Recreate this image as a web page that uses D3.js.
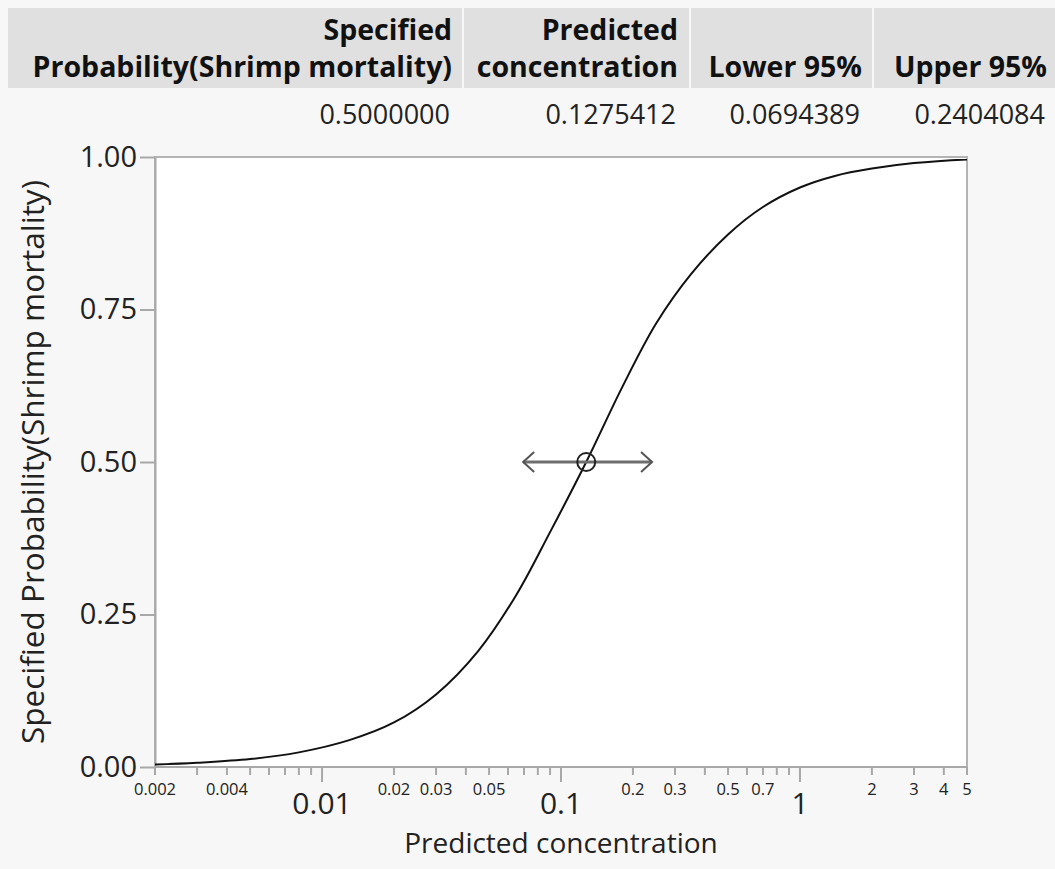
<!DOCTYPE html>
<html>
<head>
<meta charset="utf-8">
<script src="https://cdn.jsdelivr.net/npm/d3@7"></script>
<style>
	body { margin: 0; background: #f7f7f7; }
	svg { display: block; font-family: "Open Sans", "Noto Sans", sans-serif; }
</style>
</head>
<body>
<svg id="chart" width="1055" height="869"></svg>
<script>
// table
var colHeads = [["Specified", "Probability(Shrimp mortality)"], ["Predicted", "concentration"], ["", "Lower 95%"], ["", "Upper 95%"]];
var rowValues = ["0.5000000", "0.1275412", "0.0694389", "0.2404084"];

// fitted curve
var concentration = [0.002, 0.003, 0.005, 0.008, 0.013, 0.02, 0.03, 0.045, 0.065, 0.09, 0.1275, 0.18, 0.25, 0.35, 0.5, 0.7, 1.0, 1.4, 2.0, 3.0, 5];
var probability = [0.004, 0.007, 0.013, 0.024, 0.044, 0.073, 0.119, 0.190, 0.282, 0.385, 0.5, 0.622, 0.727, 0.808, 0.873, 0.918, 0.950, 0.969, 0.981, 0.990, 0.996];

// inverse prediction
var specProb = 0.5;
var predConc = 0.1275412, lower95 = 0.0694389, upper95 = 0.2404084;

// axes
var yTicks = [0, 0.25, 0.5, 0.75, 1];
var xMajor = [0.01, 0.1, 1];
var xLabeled = [0.002, 0.004, 0.02, 0.03, 0.05, 0.2, 0.3, 0.5, 0.7, 2, 3, 4, 5];

var svg = d3.select("#chart");

// header block
var colRight = [452, 678, 862, 1047];
var colSep = [463, 690, 873];
svg.append("rect").attr("x", 8).attr("y", 8).attr("width", 1047).attr("height", 80).attr("fill", "#e0e0e0");
svg.selectAll(".sep").data(colSep).enter().append("line")
	.attr("x1", function(d) { return d; }).attr("x2", function(d) { return d; })
	.attr("y1", 8).attr("y2", 88).attr("stroke", "#f7f7f7").attr("stroke-width", 2);

colHeads.forEach(function(h, i) {
	h.forEach(function(t, j) {
		svg.append("text").attr("x", colRight[i]).attr("y", 40 + j * 37)
			.attr("text-anchor", "end").attr("font-weight", "bold").attr("font-size", 28.5)
			.attr("fill", "#111").text(t);
	});
});
svg.selectAll(".val").data(rowValues).enter().append("text")
	.attr("x", function(d, i) { return colRight[i] - 2; }).attr("y", 124)
	.attr("text-anchor", "end").attr("font-size", 27).attr("fill", "#222")
	.text(function(d) { return d; });

// plot
var pLeft = 155, pRight = 967, pTop = 157, pBottom = 767;
var x = d3.scaleLog().domain([0.002, 5]).range([pLeft, pRight]);
var y = d3.scaleLinear().domain([0, 1]).range([pBottom, pTop]);

svg.append("rect").attr("x", pLeft).attr("y", pTop).attr("width", pRight - pLeft).attr("height", pBottom - pTop)
	.attr("fill", "#fff").attr("stroke", "#b4b4b4").attr("stroke-width", 2);

// y axis
var yAxis = svg.append("g").attr("transform", "translate(" + pLeft + ",0)")
	.call(d3.axisLeft(y).tickValues(yTicks).tickFormat(d3.format(".2f")).tickSize(15).tickSizeOuter(0).tickPadding(3));
yAxis.select(".domain").attr("stroke", "#a8a8a8").attr("stroke-width", 2);
yAxis.selectAll(".tick line").attr("stroke", "#a8a8a8").attr("stroke-width", 2);
yAxis.selectAll(".tick text").attr("font-size", 29).attr("fill", "#222").attr("font-family", "Open Sans, sans-serif");

// x axis
var xg = svg.append("g").attr("transform", "translate(0," + pBottom + ")");
xg.append("line").attr("x1", pLeft).attr("x2", pRight).attr("stroke", "#a8a8a8").attr("stroke-width", 2);
var allTicks = x.ticks();
xg.selectAll(".xt").data(allTicks).enter().append("line")
	.attr("x1", function(d) { return x(d); }).attr("x2", function(d) { return x(d); })
	.attr("y1", 0)
	.attr("y2", function(d) { return xMajor.indexOf(d) >= 0 ? 15 : 8; })
	.attr("stroke", "#a8a8a8").attr("stroke-width", 2);
xg.selectAll(".xl").data(xLabeled).enter().append("text")
	.attr("x", function(d) { return x(d); }).attr("y", 28)
	.attr("text-anchor", "middle").attr("font-size", 16.5).attr("fill", "#222")
	.text(function(d) { return String(d); });
xg.selectAll(".xm").data(xMajor).enter().append("text")
	.attr("x", function(d) { return x(d); }).attr("y", 47)
	.attr("text-anchor", "middle").attr("font-size", 30).attr("fill", "#222")
	.text(function(d) { return String(d); });

// titles
svg.append("text").attr("x", 561).attr("y", 853).attr("text-anchor", "middle")
	.attr("font-size", 28).attr("fill", "#222").text("Predicted concentration");
svg.append("text").attr("transform", "translate(44,462) rotate(-90)").attr("text-anchor", "middle")
	.attr("font-size", 31.5).attr("fill", "#222").text("Specified Probability(Shrimp mortality)");

// curve
var pts = concentration.map(function(c, i) { return [c, probability[i]]; });
var line = d3.line().x(function(d) { return x(d[0]); }).y(function(d) { return y(d[1]); }).curve(d3.curveCatmullRom.alpha(0.5));
svg.append("path").datum(pts).attr("d", line).attr("fill", "none").attr("stroke", "#111").attr("stroke-width", 2);

// confidence interval with arrows
var cy = y(specProb);
svg.append("line").attr("x1", x(lower95)).attr("x2", x(upper95)).attr("y1", cy).attr("y2", cy)
	.attr("stroke", "#6e6e6e").attr("stroke-width", 3);
[[lower95, 1], [upper95, -1]].forEach(function(a) {
	var ax = x(a[0]);
	svg.append("path")
		.attr("d", "M" + (ax + a[1] * 11) + "," + (cy - 10) + "L" + ax + "," + cy + "L" + (ax + a[1] * 11) + "," + (cy + 10))
		.attr("fill", "none").attr("stroke", "#555").attr("stroke-width", 2);
});
svg.append("circle").attr("cx", x(predConc)).attr("cy", cy).attr("r", 9)
	.attr("fill", "none").attr("stroke", "#222").attr("stroke-width", 2);
</script>
</body>
</html>
